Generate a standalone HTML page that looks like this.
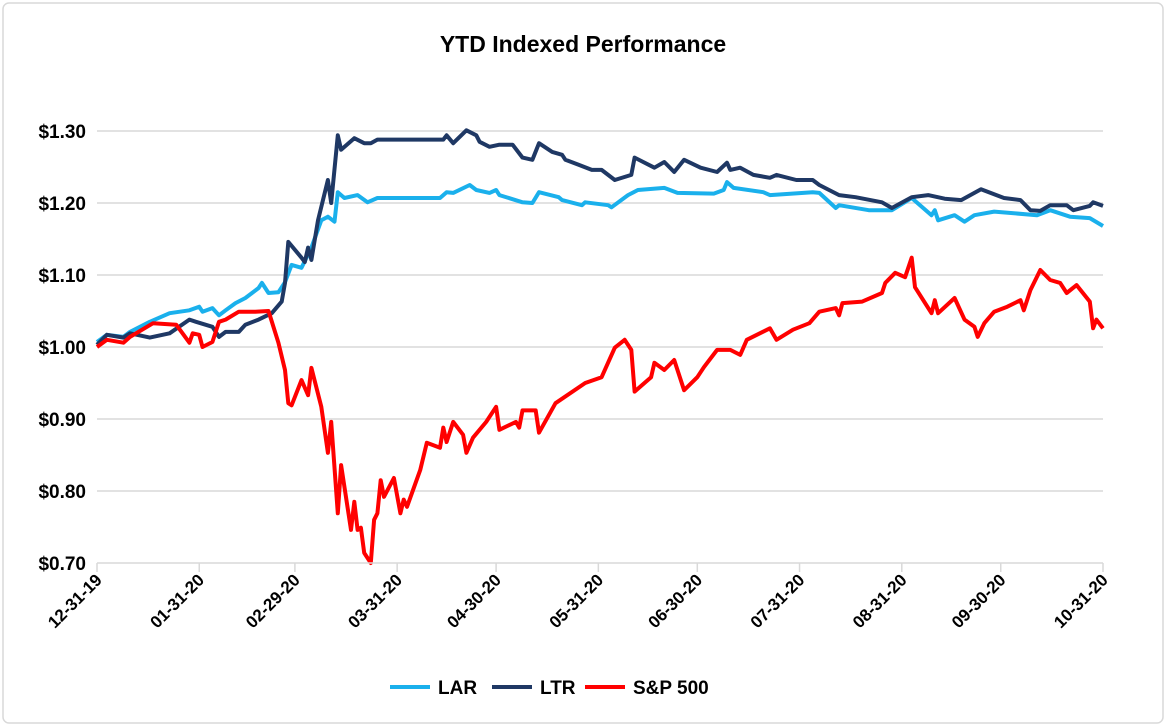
<!DOCTYPE html>
<html><head><meta charset="utf-8"><style>
body{margin:0;background:#fff;width:1166px;height:726px;overflow:hidden;font-family:"Liberation Sans",Arial,sans-serif}
svg{position:absolute;left:0;top:0}
</style></head><body>
<svg id="c" width="1166" height="726">
<rect x="3" y="3" width="1160" height="720" rx="6" fill="#fff" stroke="#d9d9d9" stroke-width="1.5"/>
<text x="583" y="52" text-anchor="middle" font-size="23" font-weight="bold" fill="#000">YTD Indexed Performance</text>
<g id="grid"></g><g id="series"></g><g id="axes"></g>
<g>
<line x1="390" y1="687" x2="430" y2="687" stroke="#1ab0ec" stroke-width="4"/>
<text x="438" y="694" font-size="19" font-weight="bold">LAR</text>
<line x1="492" y1="687" x2="532" y2="687" stroke="#1f3864" stroke-width="4"/>
<text x="540" y="694" font-size="19" font-weight="bold">LTR</text>
<line x1="585" y1="687" x2="625" y2="687" stroke="#ff0000" stroke-width="4"/>
<text x="633" y="694" font-size="19" font-weight="bold">S&amp;P 500</text>
</g>
</svg>
<script>
const yTicks=[0.70,0.80,0.90,1.00,1.10,1.20,1.30];
const xTickDays=[0,31,60,91,121,152,182,213,244,274,305];
const xTickLabels=["12-31-19","01-31-20","02-29-20","03-31-20","04-30-20","05-31-20","06-30-20","07-31-20","08-31-20","09-30-20","10-31-20"];
const spDays=[0,3,8,10,17,24,28,29,31,32,35,37,39,43,48,52,55,57,58,59,62,64,65,68,70,71,73,74,77,78,79,80,81,83,84,85,86,87,90,92,93,94,98,100,104,105,106,108,111,112,114,118,121,122,127,128,129,133,134,139,148,153,157,160,162,163,168,169,172,175,178,182,184,188,192,195,197,204,206,211,216,219,224,225,226,232,238,239,242,245,247,248,253,254,255,260,263,266,267,269,272,276,280,281,283,286,289,292,294,297,301,302,303,305];
const spVals=[1.000,1.010,1.006,1.014,1.033,1.031,1.006,1.019,1.017,1.000,1.007,1.035,1.038,1.049,1.049,1.050,1.006,0.968,0.922,0.919,0.954,0.933,0.971,0.917,0.853,0.896,0.769,0.836,0.746,0.785,0.746,0.749,0.714,0.700,0.760,0.769,0.815,0.792,0.818,0.769,0.788,0.778,0.829,0.867,0.860,0.888,0.868,0.896,0.878,0.853,0.874,0.896,0.917,0.885,0.896,0.888,0.912,0.912,0.881,0.922,0.950,0.958,0.999,1.010,0.996,0.938,0.958,0.978,0.968,0.982,0.940,0.958,0.972,0.996,0.996,0.989,1.010,1.026,1.010,1.024,1.033,1.049,1.054,1.044,1.061,1.063,1.075,1.089,1.103,1.097,1.124,1.083,1.047,1.065,1.047,1.068,1.038,1.028,1.014,1.033,1.049,1.056,1.065,1.051,1.079,1.107,1.093,1.089,1.075,1.086,1.063,1.026,1.038,1.026];
const ltrDays=[0,3,8,10,16,22,28,30,35,37,39,43,45,49,53,56,57,58,62,63,64,65,67,70,71,73,74,78,81,83,85,105,106,108,112,115,116,119,122,126,129,132,134,138,141,142,146,150,153,157,162,163,169,172,175,178,183,188,191,192,195,199,204,206,212,217,219,225,230,238,241,247,252,257,262,268,275,280,283,286,289,294,296,301,302,305];
const ltrVals=[1.003,1.017,1.013,1.019,1.013,1.019,1.038,1.035,1.028,1.014,1.021,1.021,1.031,1.038,1.047,1.063,1.089,1.146,1.124,1.118,1.138,1.121,1.176,1.232,1.200,1.294,1.274,1.290,1.283,1.283,1.288,1.288,1.294,1.283,1.301,1.294,1.285,1.278,1.281,1.281,1.263,1.260,1.283,1.271,1.267,1.260,1.253,1.246,1.246,1.232,1.239,1.263,1.249,1.257,1.243,1.260,1.249,1.243,1.256,1.246,1.249,1.239,1.235,1.239,1.232,1.232,1.225,1.211,1.208,1.201,1.193,1.208,1.211,1.206,1.204,1.219,1.207,1.204,1.190,1.189,1.197,1.197,1.190,1.196,1.201,1.196];
const larDays=[0,3,8,10,16,22,28,31,32,35,37,39,42,45,49,50,52,55,57,59,62,65,68,70,72,73,75,79,82,85,104,106,108,113,115,119,121,122,129,132,134,140,141,147,148,155,156,161,164,172,176,187,190,191,193,202,204,217,219,224,225,234,241,247,253,254,255,260,263,266,272,285,289,295,301,305];
const larVals=[1.007,1.017,1.014,1.021,1.035,1.047,1.051,1.056,1.049,1.054,1.044,1.051,1.061,1.068,1.082,1.089,1.075,1.076,1.090,1.114,1.110,1.138,1.176,1.181,1.174,1.215,1.207,1.211,1.201,1.207,1.207,1.215,1.214,1.225,1.218,1.214,1.218,1.211,1.201,1.200,1.215,1.208,1.204,1.197,1.201,1.197,1.194,1.211,1.218,1.221,1.214,1.213,1.218,1.229,1.221,1.215,1.211,1.215,1.214,1.193,1.197,1.190,1.190,1.207,1.183,1.190,1.176,1.183,1.174,1.183,1.188,1.183,1.190,1.181,1.179,1.168];

const X0=97,X1=1103,Y0=563,Y1=131;
const xs=d=>X0+(X1-X0)*d/305;
const ys=v=>Y0-(Y0-Y1)*(v-0.70)/0.60;
const NS="http://www.w3.org/2000/svg";
function mk(tag,attrs,parent){const e=document.createElementNS(NS,tag);for(const k in attrs)e.setAttribute(k,attrs[k]);parent.appendChild(e);return e;}
const grid=document.getElementById('grid'),axes=document.getElementById('axes'),ser=document.getElementById('series');
yTicks.forEach((v,i)=>{
  if(i>0){const l=mk('line',{x1:X0,x2:X1,y1:ys(v),y2:ys(v),stroke:'#d9d9d9','stroke-width':1.5},grid);
  
  }
  const t=mk('text',{x:86,y:ys(v)+7,'text-anchor':'end','font-size':19,'font-weight':'bold',fill:'#000'},axes);
  t.textContent='$'+v.toFixed(2);
  
  
});
const ax=mk('line',{x1:X0,x2:X1,y1:Y0,y2:Y0,stroke:'#d9d9d9','stroke-width':1.5},axes);


xTickDays.forEach((d,i)=>{
  const tk=mk('line',{x1:xs(d),x2:xs(d),y1:Y0,y2:Y0+9,stroke:'#d9d9d9','stroke-width':1.5},axes);
  
  
  const x=xs(d)+6,y=Y0+18;
  const t=mk('text',{x:x,y:y,'text-anchor':'end','font-size':17,'font-weight':'bold',fill:'#000',transform:`rotate(-45 ${x} ${y})`},axes);
  t.textContent=xTickLabels[i];
  
  
});
function line(days,vals,color,name){
  const d=days.map((dd,i)=>(i?'L':'M')+xs(dd).toFixed(1)+','+ys(vals[i]).toFixed(1)).join('');
  const p=mk('path',{d:d,fill:'none',stroke:color,'stroke-width':4,'stroke-linejoin':'round'},ser);
  
  
}
line(larDays,larVals,'#1ab0ec','lar-line');
line(ltrDays,ltrVals,'#1f3864','ltr-line');
line(spDays,spVals,'#ff0000','sp500-line');
</script>
</body></html>
